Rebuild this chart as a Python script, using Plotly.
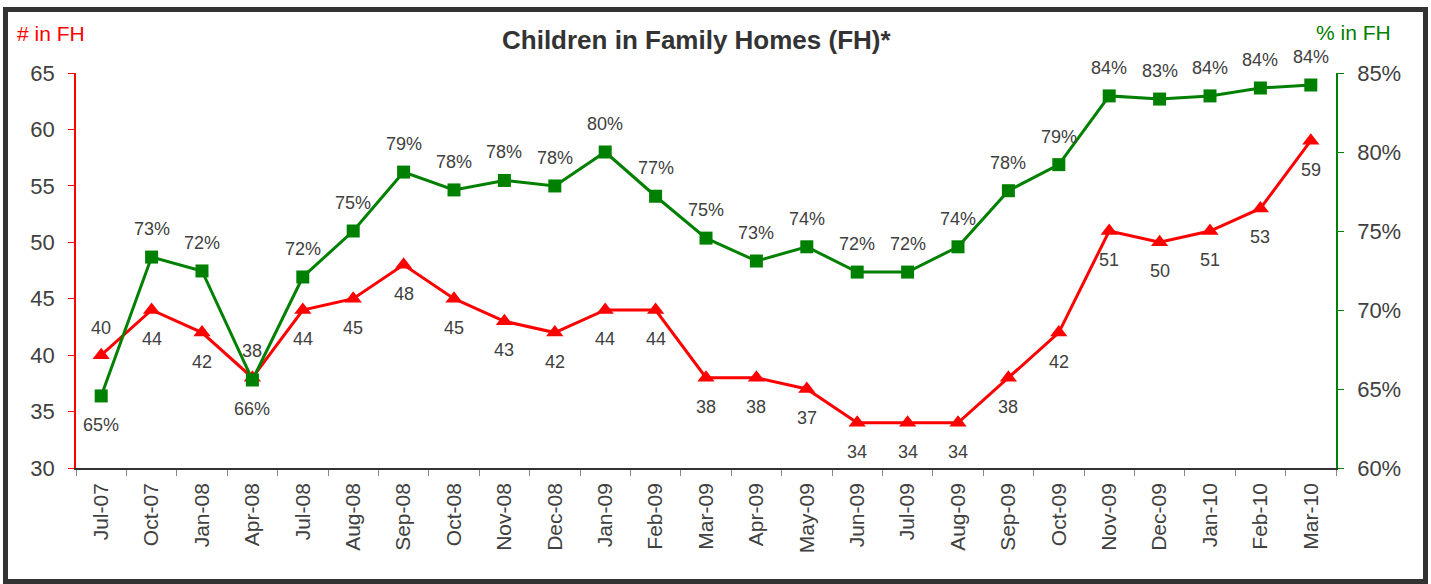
import plotly.graph_objects as go

# Monthly reporting periods
months = ["Jul-07", "Oct-07", "Jan-08", "Apr-08", "Jul-08", "Aug-08", "Sep-08", "Oct-08",
          "Nov-08", "Dec-08", "Jan-09", "Feb-09", "Mar-09", "Apr-09", "May-09", "Jun-09",
          "Jul-09", "Aug-09", "Sep-09", "Oct-09", "Nov-09", "Dec-09", "Jan-10", "Feb-10", "Mar-10"]

# Number of children in family homes
count_fh = [40, 44, 42, 38, 44, 45, 48, 45, 43, 42, 44, 44, 38, 38, 37, 34, 34, 34, 38, 42,
            51, 50, 51, 53, 59]

# Share of children in family homes (fraction)
share_fh = [0.6456, 0.7335, 0.7247, 0.6557, 0.7209, 0.7500, 0.7873, 0.7760, 0.7820, 0.7785,
            0.8000, 0.7720, 0.7455, 0.7310, 0.7400, 0.7240, 0.7240, 0.7400, 0.7755, 0.7920,
            0.8355, 0.8335, 0.8355, 0.8405, 0.8424]

# Label placement: True = above the marker
count_label_above = [True, False, False, True] + [False] * 21
share_label_above = [False, True, True, False] + [True] * 21

W, H = 1431, 584
L, R, T, B = 76, 95, 73, 116
PW, PH = W - L - R, H - T - B

FONT = "Liberation Sans, Arial, sans-serif"
TXT = "#404040"
RED = "#ff0000"
GREEN = "#008000"


def px_x(px):
    return (px - L) / PW


def px_y(py):
    return 1 - (py - T) / PH


fig = go.Figure()

fig.add_trace(go.Scatter(
    x=months, y=share_fh, yaxis="y2", mode="lines+markers",
    line=dict(color=GREEN, width=3),
    marker=dict(symbol="square", size=13, color=GREEN),
    hoverinfo="skip", showlegend=False, cliponaxis=False,
))

fig.add_trace(go.Scatter(
    x=months, y=count_fh, yaxis="y", mode="lines+markers",
    line=dict(color=RED, width=3),
    marker=dict(symbol="triangle-up", size=15, color=RED),
    hoverinfo="skip", showlegend=False, cliponaxis=False,
))

annotations = []
for m, v, above in zip(months, count_fh, count_label_above):
    annotations.append(dict(
        x=m, y=v, xref="x", yref="y", text=str(v), showarrow=False,
        yshift=27 if above else -29,
        font=dict(family=FONT, size=18, color=TXT),
    ))
for m, v, above in zip(months, share_fh, share_label_above):
    annotations.append(dict(
        x=m, y=v, xref="x", yref="y2", text=f"{round(v * 100):.0f}%", showarrow=False,
        yshift=28 if above else -29,
        font=dict(family=FONT, size=18, color=TXT),
    ))

annotations += [
    dict(x=px_x(696.5), y=px_y(40), xref="paper", yref="paper", showarrow=False,
         text="<b>Children in Family Homes (FH)*</b>", xanchor="center", yanchor="middle",
         font=dict(family=FONT, size=26, color="#333333")),
    dict(x=px_x(15), y=px_y(34), xref="paper", yref="paper", showarrow=False,
         text="# in FH", xanchor="left", yanchor="middle",
         font=dict(family=FONT, size=21, color=RED)),
    dict(x=px_x(1393), y=px_y(33), xref="paper", yref="paper", showarrow=False,
         text="% in FH", xanchor="right", yanchor="middle",
         font=dict(family=FONT, size=21, color=GREEN)),
]

fig.update_layout(
    width=W, height=H,
    margin=dict(l=L, r=R, t=T, b=B),
    paper_bgcolor="white", plot_bgcolor="white",
    font=dict(family=FONT, color=TXT),
    xaxis=dict(
        type="category", categoryorder="array", categoryarray=months,
        tickson="boundaries", ticks="outside", ticklen=6, tickcolor="#888888",
        showline=True, linecolor="#333333", linewidth=1.5,
        showgrid=False, tickangle=-90, ticklabelstandoff=5,
        tickfont=dict(family=FONT, size=21, color=TXT),
        range=[-0.5, len(months) - 0.5],
    ),
    yaxis=dict(
        range=[30, 65], dtick=5, showgrid=False, zeroline=False,
        showline=True, linecolor=RED, linewidth=1.5,
        ticks="outside", ticklen=6, tickcolor=RED, ticklabelstandoff=9,
        tickfont=dict(family=FONT, size=22, color=TXT),
    ),
    yaxis2=dict(
        range=[0.60, 0.85], dtick=0.05, tickformat=".0%", overlaying="y", side="right",
        showgrid=False, zeroline=False,
        showline=True, linecolor=GREEN, linewidth=1.5,
        ticks="outside", ticklen=6, tickcolor=GREEN, ticklabelstandoff=9,
        tickfont=dict(family=FONT, size=22, color=TXT),
    ),
    annotations=annotations,
    shapes=[dict(
        type="rect", xref="paper", yref="paper",
        x0=px_x(5.5), x1=px_x(1425.5), y0=px_y(9.5), y1=px_y(581.5),
        line=dict(color="#333333", width=5), fillcolor="rgba(0,0,0,0)", layer="below",
    )],
)

fig.write_html("out.html")
